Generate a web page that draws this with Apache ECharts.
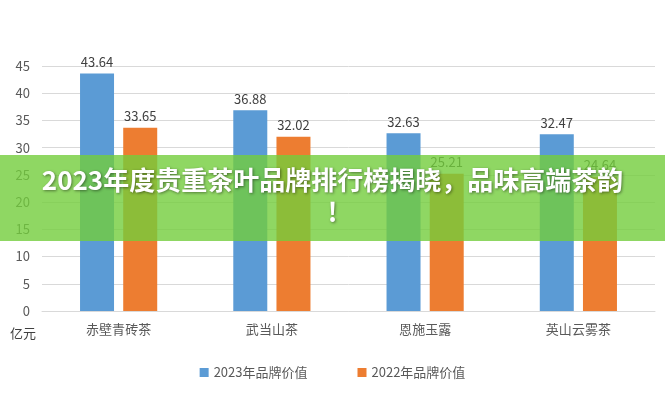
<!DOCTYPE html>
<html><head><meta charset="utf-8">
<script src="https://cdn.jsdelivr.net/npm/echarts@6/dist/echarts.min.js"></script>
<style>html,body{margin:0;padding:0;background:#fff}#c{width:665px;height:400px}</style>
</head><body><div id="c"></div>
<script>
const categories = ['赤壁青砖茶', '武当山茶', '恩施玉露', '英山云雾茶'];
const values2023 = [43.64, 36.88, 32.63, 32.47];
const values2022 = [33.65, 32.02, 25.21, 24.64];
const seriesNames = ['2023年品牌价值', '2022年品牌价值'];
const titleLines = ['2023年度贵重茶叶品牌排行榜揭晓，品味高端茶韵', '!'];

const chart = echarts.init(document.getElementById('c'));
const font = '"Noto Sans CJK SC", sans-serif';
const titleStyle = (text) => ({text, fill: '#fff', font: 'bold 26px ' + font,
  textShadowColor: 'rgba(0,0,0,0.45)', textShadowBlur: 3, textShadowOffsetX: 1, textShadowOffsetY: 1});
chart.setOption({
  animation: false,
  grid: {left: 42, right: 10, top: 66, bottom: 89, containLabel: false},
  legend: {bottom: 16, left: 'center', itemWidth: 9, itemHeight: 9, itemGap: 50,
    icon: 'rect', textStyle: {color: '#595959', fontSize: 13, fontFamily: font}},
  xAxis: {type: 'category', data: categories,
    axisLine: {lineStyle: {color: '#d9d9d9'}}, axisTick: {show: false},
    axisLabel: {color: '#595959', fontSize: 13, fontFamily: font, margin: 12}},
  yAxis: {type: 'value', min: 0, max: 45, interval: 5,
    axisLine: {show: false}, axisTick: {show: false},
    splitLine: {lineStyle: {color: '#d9d9d9'}},
    axisLabel: {color: '#595959', fontSize: 13, fontFamily: font, margin: 12}},
  series: [
    {name: seriesNames[0], type: 'bar', data: values2023, barWidth: 34, barGap: '27%',
      itemStyle: {color: '#5b9bd5'},
      label: {show: true, position: 'top', color: '#404040', fontSize: 13, fontFamily: font}},
    {name: seriesNames[1], type: 'bar', data: values2022, barWidth: 34,
      itemStyle: {color: '#ed7d31'},
      label: {show: true, position: 'top', color: '#404040', fontSize: 13, fontFamily: font}}
  ],
  graphic: [
    {type: 'text', left: 10, top: 327, style: {text: '亿元', fill: '#404040', font: '13px ' + font}},
    {type: 'rect', shape: {x: 0, y: 155, width: 665, height: 86}, z: 100,
      style: {fill: 'rgba(115,205,60,0.8)'}},
    {type: 'text', z: 101, left: 'center', top: 167, style: titleStyle(titleLines[0])},
    {type: 'text', z: 101, left: 'center', top: 199, style: titleStyle(titleLines[1])}
  ]
});
</script></body></html>
